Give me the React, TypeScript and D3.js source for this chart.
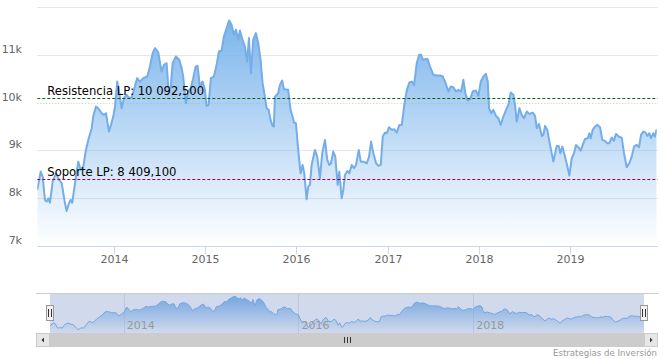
import React from 'react';
import * as d3 from 'd3';

// Dates as decimal years
const dates = [
  2013.155, 2013.192, 2013.214, 2013.239, 2013.258, 2013.276, 2013.294, 2013.324, 2013.360, 2013.396,
  2013.423, 2013.459, 2013.477, 2013.503, 2013.521, 2013.539, 2013.569, 2013.605, 2013.631, 2013.660,
  2013.689, 2013.715, 2013.752, 2013.769, 2013.799, 2013.824, 2013.862, 2013.887, 2013.909, 2013.942,
  2013.964, 2013.989, 2014.008, 2014.033, 2014.055, 2014.081, 2014.106, 2014.136, 2014.165, 2014.191,
  2014.216, 2014.252, 2014.282, 2014.318, 2014.362, 2014.392, 2014.422, 2014.447, 2014.483, 2014.520,
  2014.546, 2014.575, 2014.593, 2014.619, 2014.641, 2014.677, 2014.714, 2014.740, 2014.757, 2014.787,
  2014.812, 2014.839, 2014.867, 2014.894, 2014.915, 2014.941, 2014.970, 2014.996, 2015.014, 2015.036,
  2015.061, 2015.094, 2015.124, 2015.149, 2015.179, 2015.204, 2015.234, 2015.262, 2015.289, 2015.314,
  2015.336, 2015.361, 2015.380, 2015.409, 2015.435, 2015.460, 2015.479, 2015.501, 2015.526, 2015.555,
  2015.581, 2015.607, 2015.629, 2015.654, 2015.673, 2015.695, 2015.717, 2015.739, 2015.753, 2015.764,
  2015.800, 2015.819, 2015.844, 2015.863, 2015.910, 2015.936, 2015.958, 2015.973, 2015.995, 2016.020,
  2016.046, 2016.068, 2016.086, 2016.112, 2016.130, 2016.148, 2016.167, 2016.203, 2016.228, 2016.258,
  2016.283, 2016.313, 2016.338, 2016.360, 2016.379, 2016.404, 2016.426, 2016.452, 2016.470, 2016.496,
  2016.514, 2016.532, 2016.558, 2016.580, 2016.606, 2016.631, 2016.653, 2016.683, 2016.705, 2016.733,
  2016.771, 2016.796, 2016.818, 2016.843, 2016.873, 2016.898, 2016.924, 2016.946, 2016.971, 2016.990,
  2017.015, 2017.045, 2017.070, 2017.100, 2017.128, 2017.155, 2017.180, 2017.210, 2017.238, 2017.265,
  2017.290, 2017.319, 2017.345, 2017.367, 2017.385, 2017.411, 2017.436, 2017.465, 2017.502, 2017.539,
  2017.575, 2017.605, 2017.630, 2017.666, 2017.693, 2017.721, 2017.751, 2017.776, 2017.806, 2017.831,
  2017.853, 2017.879, 2017.905, 2017.934, 2017.970, 2017.996, 2018.022, 2018.051, 2018.077, 2018.099,
  2018.113, 2018.135, 2018.160, 2018.190, 2018.215, 2018.241, 2018.270, 2018.300, 2018.325, 2018.351,
  2018.380, 2018.398, 2018.417, 2018.446, 2018.472, 2018.497, 2018.527, 2018.555, 2018.593, 2018.618,
  2018.637, 2018.662, 2018.692, 2018.709, 2018.728, 2018.753, 2018.783, 2018.819, 2018.856, 2018.878,
  2018.896, 2018.918, 2018.947, 2018.973, 2018.995, 2019.021, 2019.046, 2019.068, 2019.093, 2019.120,
  2019.142, 2019.167, 2019.197, 2019.214, 2019.230, 2019.251, 2019.277, 2019.302, 2019.332, 2019.357,
  2019.386, 2019.412, 2019.434, 2019.460, 2019.485, 2019.507, 2019.537, 2019.570, 2019.595, 2019.625,
  2019.653, 2019.680, 2019.705, 2019.734, 2019.760, 2019.782, 2019.807, 2019.833, 2019.851, 2019.873,
  2019.892, 2019.917, 2019.935, 2019.954,
];

const values = [
  8173, 8556, 8451, 7963, 7928, 7998, 7907, 8347, 8522, 8382,
  8313, 7893, 7733, 7893, 7963, 7907, 8313, 8765, 8591, 8661,
  9010, 9219, 9464, 9708, 9917, 9883, 9778, 9743, 9778, 9394,
  9534, 9708, 9917, 10440, 10197, 9883, 10093, 10162, 10093, 10114,
  10267, 10512, 10440, 10512, 10545, 10755, 11035, 11140, 11050, 10650,
  10790, 10825, 10336, 10302, 10825, 10964, 10895, 10721, 10545, 9988,
  10231, 10302, 10512, 10755, 10769, 10336, 10440, 10267, 9931, 9952,
  10512, 10545, 10790, 11069, 11090, 11383, 11559, 11719, 11628, 11419,
  11523, 11314, 11509, 11314, 11174, 10860, 11349, 10615, 11314, 11454,
  11245, 10895, 10407, 10126, 9883, 9848, 9638, 9513, 9500, 10126,
  10197, 10371, 10461, 10281, 10267, 9848, 9708, 9582, 9569, 9010,
  8522, 8696, 8522, 7977, 8242, 8277, 8696, 9010, 8870, 8418,
  8941, 9219, 8801, 8696, 8731, 8975, 8870, 8277, 8556, 7998,
  8173, 8487, 8570, 8522, 8696, 8627, 8696, 9010, 8765, 8765,
  8731, 8870, 9184, 8941, 8731, 8675, 8696, 9289, 9373, 9360,
  9485, 9429, 9443, 9373, 9534, 9534, 9917, 10267, 10420, 10440,
  10371, 10825, 11000, 11000, 10895, 10909, 10916, 10755, 10581, 10566,
  10566, 10545, 10440, 10231, 10336, 10323, 10231, 10267, 10231, 10476,
  10197, 10043, 10072, 10231, 10252, 10141, 10440, 10545, 10601, 10440,
  9883, 9778, 9848, 9722, 9674, 9534, 9708, 9848, 9952, 10211,
  10162, 9952, 9603, 9883, 9743, 9674, 9813, 9764, 9791, 9722,
  9464, 9555, 9303, 9324, 9513, 9429, 9115, 8765, 9094, 9094,
  8941, 9079, 8870, 8661, 8472, 8836, 8941, 9115, 9067, 8996,
  9115, 9241, 9255, 9360, 9255, 9429, 9499, 9534, 9485, 9219,
  9199, 9150, 9150, 9268, 9205, 9345, 9289, 9268, 8941, 8648,
  8731, 8870, 9079, 9115, 9067, 9324, 9394, 9373, 9303, 9360,
  9255, 9360, 9289, 9443,
];

const yTicks = [8000, 9000, 10000, 11000, 12000];
const yLabelTicks = [7000, 8000, 9000, 10000, 11000];
const xTickYears = [2014, 2015, 2016, 2017, 2018, 2019];
const navTickYears = [2014, 2016, 2018];
const plotLineValues = [10092.5, 8409.1];
const plotLineLabels = ['Resistencia LP: 10 092,500', 'Soporte LP: 8 409,100'];
const creditText = 'Estrategias de Inversión';

const W = 663;
const H = 359;
const FONT = '"DejaVu Sans", Verdana, sans-serif';

function toDate(t: number): Date {
  const y = Math.floor(t);
  const s = Date.UTC(y, 0, 1);
  const e = Date.UTC(y + 1, 0, 1);
  return new Date(s + (t - y) * (e - s));
}

export default function App() {
  const data = dates.map((t, i) => ({ date: toDate(t), v: values[i] }));
  const plot = { left: 37.3, right: 656.7, top: 7, bottom: 246 };
  const nav = { left: 50, right: 644, top: 293, bottom: 333 };

  const x = d3.scaleUtc().domain(d3.extent(data, d => d.date) as [Date, Date]).range([plot.left, plot.right]);
  const y = d3.scaleLinear().domain([7000, 12000]).range([plot.bottom, plot.top]);

  const vMin = d3.min(values) as number;
  const vMax = d3.max(values) as number;
  const pad = (vMax - vMin) * 0.1;
  const xn = d3.scaleUtc().domain(x.domain()).range([nav.left, nav.right]);
  const yn = d3.scaleLinear().domain([vMin - pad, vMax + pad]).range([nav.bottom, nav.top]);

  const area = d3.area<{ date: Date; v: number }>().x(d => x(d.date)).y0(plot.bottom).y1(d => y(d.v));
  const line = d3.line<{ date: Date; v: number }>().x(d => x(d.date)).y(d => y(d.v));
  const navArea = d3.area<{ date: Date; v: number }>().x(d => xn(d.date)).y0(nav.bottom).y1(d => yn(d.v));
  const navLine = d3.line<{ date: Date; v: number }>().x(d => xn(d.date)).y(d => yn(d.v));

  const plotLineColors = ['#0a6414', '#a3005c'];
  const sbTop = 333, sbH = 14, sbLeft = 36, sbRight = 658;
  const midY = (nav.top + nav.bottom) / 2;

  const handle = (cx: number) => (
    <g key={'h' + cx}>
      <rect x={Math.round(cx) - 3.5} y={midY - 7.5} width={7} height={15} fill="#f2f2f2" stroke="#999999" strokeWidth={1} />
      <line x1={Math.round(cx) - 1.5} x2={Math.round(cx) - 1.5} y1={midY - 4} y2={midY + 4} stroke="#333" strokeWidth={1} />
      <line x1={Math.round(cx) + 1.5} x2={Math.round(cx) + 1.5} y1={midY - 4} y2={midY + 4} stroke="#333" strokeWidth={1} />
    </g>
  );

  return (
    <svg width={W} height={H} style={{ position: 'absolute', left: 0, top: 0, fontFamily: FONT }}>
      <defs>
        <linearGradient id="mainGrad" x1="0" y1="0" x2="0" y2="1">
          <stop offset="0" stopColor="#7cb5ec" stopOpacity={1} />
          <stop offset="1" stopColor="#7cb5ec" stopOpacity={0} />
        </linearGradient>
        <linearGradient id="navGrad" x1="0" y1="0" x2="0" y2="1">
          <stop offset="0" stopColor="#7cb5ec" stopOpacity={1} />
          <stop offset="1" stopColor="#7cb5ec" stopOpacity={0} />
        </linearGradient>
        <clipPath id="plotClip">
          <rect x={plot.left} y={plot.top - 5} width={plot.right - plot.left} height={plot.bottom - plot.top + 5} />
        </clipPath>
      </defs>
      <rect x={0} y={0} width={W} height={H} fill="#ffffff" />

      {/* grid */}
      {yTicks.map(t => (
        <line key={'g' + t} x1={plot.left} x2={plot.right + 1} y1={Math.round(y(t)) + 0.5} y2={Math.round(y(t)) + 0.5}
          stroke={t === 10000 ? '#c8c8c8' : '#e6e6e6'} strokeWidth={1} strokeDasharray={t === 10000 ? '1,2' : undefined} />
      ))}

      {/* series */}
      <g clipPath="url(#plotClip)">
        <path d={area(data) || ''} fill="url(#mainGrad)" />
        <path d={line(data) || ''} fill="none" stroke="#74ade8" strokeWidth={2} strokeLinejoin="round" />
      </g>

      {/* plot lines */}
      {plotLineValues.map((v, i) => (
        <g key={'pl' + i}>
          <line x1={plot.left} x2={plot.right + 1} y1={Math.round(y(v)) + 0.5} y2={Math.round(y(v)) + 0.5}
            stroke={plotLineColors[i]} strokeWidth={1} strokeDasharray="3,2" />
          <text x={plot.left + 10} y={y(v) - 3} fontSize={11.6} fill="#000">{plotLineLabels[i]}</text>
        </g>
      ))}

      {/* x axis */}
      <line x1={plot.left} x2={plot.right + 1} y1={plot.bottom + 0.5} y2={plot.bottom + 0.5} stroke="#ccd6eb" strokeWidth={1} />
      {xTickYears.map(yr => {
        const px = Math.round(x(new Date(Date.UTC(yr, 0, 1)))) + 0.5;
        return (
          <g key={'xt' + yr}>
            <line x1={px} x2={px} y1={plot.bottom} y2={plot.bottom + 8} stroke="#ccd6eb" strokeWidth={1} />
            <text x={px} y={plot.bottom + 17} textAnchor="middle" fontSize={11} fill="#666666">{yr}</text>
          </g>
        );
      })}

      {/* y labels */}
      {yLabelTicks.map(t => (
        <text key={'yl' + t} x={22} y={y(t) - 2} textAnchor="end" fontSize={11} fill="#666666">{t / 1000 + 'k'}</text>
      ))}

      {/* navigator */}
      {navTickYears.map(yr => {
        const px = Math.round(xn(new Date(Date.UTC(yr, 0, 1)))) + 0.5;
        return <line key={'ng' + yr} x1={px} x2={px} y1={nav.top} y2={nav.bottom} stroke="#e6e6e6" strokeWidth={1} />;
      })}
      <path d={navArea(data) || ''} fill="url(#navGrad)" />
      <path d={navLine(data) || ''} fill="none" stroke="#7cb5ec" strokeWidth={1} />
      <rect x={nav.left} y={nav.top} width={nav.right - nav.left} height={nav.bottom - nav.top} fill="rgba(102,133,194,0.3)" />
      {navTickYears.map(yr => {
        const px = xn(new Date(Date.UTC(yr, 0, 1)));
        return <text key={'nl' + yr} x={px + 3} y={nav.bottom - 4.5} fontSize={11} fill="#999999">{yr}</text>;
      })}
      <line x1={sbLeft} x2={sbRight} y1={nav.top + 0.5} y2={nav.top + 0.5} stroke="#cccccc" strokeWidth={1} />

      {/* scrollbar */}
      <rect x={sbLeft} y={sbTop} width={sbRight - sbLeft} height={sbH} fill="#f2f2f2" />
      <rect x={nav.left} y={sbTop} width={nav.right - nav.left} height={sbH} fill="#cccccc" />
      <rect x={sbLeft + 0.5} y={sbTop + 0.5} width={13} height={sbH - 1} fill="#e6e6e6" stroke="#cccccc" strokeWidth={1} />
      <rect x={sbRight - 13.5} y={sbTop + 0.5} width={13} height={sbH - 1} fill="#e6e6e6" stroke="#cccccc" strokeWidth={1} />
      <path d={`M ${sbLeft + 8} ${sbTop + 4.5} L ${sbLeft + 8} ${sbTop + 9.5} L ${sbLeft + 5.5} ${sbTop + 7} Z`} fill="#333333" />
      <path d={`M ${sbRight - 8} ${sbTop + 4.5} L ${sbRight - 8} ${sbTop + 9.5} L ${sbRight - 5.5} ${sbTop + 7} Z`} fill="#333333" />
      {[-3, 0, 3].map(o => {
        const cx = Math.round((nav.left + nav.right) / 2) + o + 0.5;
        return <line key={'r' + o} x1={cx} x2={cx} y1={sbTop + 4} y2={sbTop + 10} stroke="#333333" strokeWidth={1} />;
      })}

      {handle(nav.left)}
      {handle(nav.right)}

      {/* credits */}
      <text x={657} y={356} textAnchor="end" fontSize={8.6} fill="#999999">{creditText}</text>
    </svg>
  );
}
